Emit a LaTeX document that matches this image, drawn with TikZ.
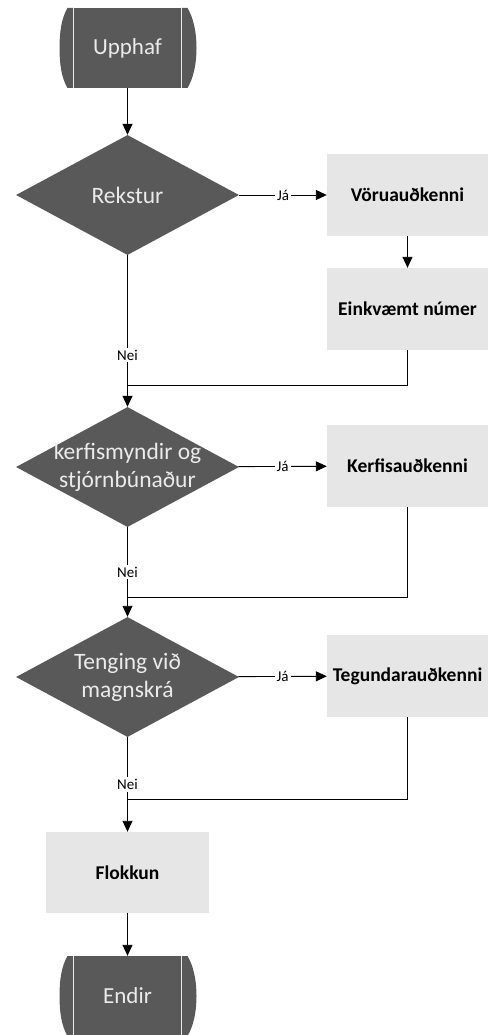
\documentclass[tikz,border=0pt]{standalone}
\usepackage{fontspec}
\setmainfont{Carlito}
\usetikzlibrary{shapes.geometric,arrows.meta}

\definecolor{darkfill}{HTML}{595959}
\definecolor{lightfill}{HTML}{E6E6E6}
\definecolor{darktext}{HTML}{EBEBEB}

% rounded side caps of a start/end block
\newcommand{\termcaps}[1]{%
  \begin{scope}[shift={(#1.center)}]
    \fill[darkfill] (-54,-40) -- (-60,-40) .. controls (-66,-30) and (-68,-16) .. (-68,0)
      .. controls (-68,16) and (-66,30) .. (-60,40) -- (-54,40) -- cycle;
    \fill[darkfill] (54,-40) -- (60,-40) .. controls (66,-30) and (69,-16) .. (69,0)
      .. controls (69,16) and (66,30) .. (60,40) -- (54,40) -- cycle;
    \draw[darktext, line width=0.9pt] (-54,-40) -- (-54,40) (54,-40) -- (54,40);
  \end{scope}}

\begin{document}
\begin{tikzpicture}[x=1pt, y=-1pt,
    line/.style={draw, line width=0.9pt},
    arr/.style={line, -{Triangle[length=11pt,width=10pt]}},
    terminal/.style={rectangle, fill=darkfill, minimum width=108, minimum height=80,
      inner sep=0, text=darktext, font=\fontsize{23}{28}\selectfont},
    decision/.style={diamond, fill=darkfill, minimum width=223, minimum height=120, inner sep=0},
    dectext/.style={text=darktext, align=center, font=\fontsize{23.5}{28}\selectfont},
    process/.style={rectangle, fill=lightfill, minimum width=161, minimum height=82,
      inner sep=0, font=\bfseries\fontsize{19.5}{23}\selectfont},
    tag/.style={fill=white, inner sep=2pt, font=\fontsize{15}{17}\selectfont}]

   \useasboundingbox (0,0) rectangle (488,1035);

   % main column
   \node[terminal] (upphaf) at (127.5,48) {Upphaf};
   \termcaps{upphaf}
   \node[decision, label={[dectext]center:Rekstur}] (rekstur) at (127.5,195) {};
   \node[decision, label={[dectext]center:{kerfismyndir og\\stjórnbúnaður}}] (kerfi) at (127.5,467) {};
   \node[decision, label={[dectext]center:{Tenging við\\magnskrá}}] (tenging) at (127.5,677) {};
   \node[process, minimum width=163, minimum height=81] (flokkun) at (127.5,872.5) {Flokkun};
   \node[terminal] (endir) at (127.5,996) {Endir};
   \termcaps{endir}

   % right column
   \node[process] (voru) at (407.5,195) {Vöruauðkenni};
   \node[process] (einkv) at (407.5,309) {Einkvæmt númer};
   \node[process] (kerfisaud) at (407.5,466) {Kerfisauðkenni};
   \node[process] (tegund) at (407.5,676) {Tegundarauðkenni};

   \coordinate (m1) at (127.5,385);
   \coordinate (m2) at (127.5,597);
   \coordinate (m3) at (127.5,799);

   \draw[arr] (upphaf) -- (rekstur);
   \draw[arr] (rekstur) -- node[tag] {Já} (voru);
   \draw[arr] (voru) -- (einkv);
   \draw[arr] (rekstur) -- node[tag, pos=.66] {Nei} (kerfi);
   \draw[line] (einkv.south) |- (m1);

   \draw[arr] (kerfi) -- node[tag] {Já} (kerfisaud);
   \draw[arr] (kerfi) -- node[tag] {Nei} (tenging);
   \draw[line] (kerfisaud.south) |- (m2);

   \draw[arr] (tenging) -- node[tag] {Já} (tegund);
   \draw[arr] (tenging) -- node[tag] {Nei} (flokkun);
   \draw[line] (tegund.south) |- (m3);

   \draw[arr] (flokkun) -- (endir);
 \end{tikzpicture}
\end{document}
